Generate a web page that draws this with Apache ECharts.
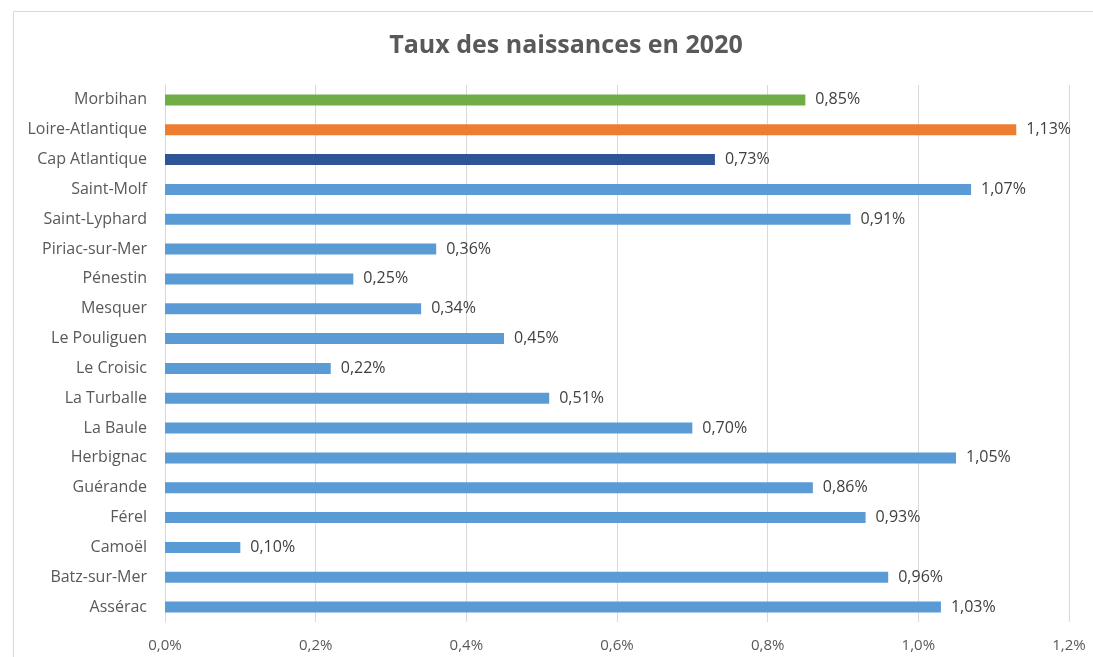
<!DOCTYPE html>
<html>
<head>
<meta charset="utf-8">
<script src="https://cdn.jsdelivr.net/npm/echarts@6/dist/echarts.min.js"></script>
<style>
  html, body { margin: 0; padding: 0; background: #fff; }
  #chart { width: 1093px; height: 657px; }
</style>
</head>
<body>
<div id="chart"></div>
<script>
// communes du bas vers le haut (ordre de l'axe)
const communes = [
  'Assérac', 'Batz-sur-Mer', 'Camoël', 'Férel', 'Guérande', 'Herbignac',
  'La Baule', 'La Turballe', 'Le Croisic', 'Le Pouliguen', 'Mesquer',
  'Pénestin', 'Piriac-sur-Mer', 'Saint-Lyphard', 'Saint-Molf',
  'Cap Atlantique', 'Loire-Atlantique', 'Morbihan'
];
// taux en %
const taux = [
  1.03, 0.96, 0.10, 0.93, 0.86, 1.05,
  0.70, 0.51, 0.22, 0.45, 0.34,
  0.25, 0.36, 0.91, 1.07,
  0.73, 1.13, 0.85
];
const couleurs = {
  'Cap Atlantique': '#2f5597',
  'Loire-Atlantique': '#ed7d31',
  'Morbihan': '#70ad47'
};
const couleurDefaut = '#5b9bd5';

const fmt = (v, d) => v.toFixed(d).replace('.', ',') + '%';

const chart = echarts.init(document.getElementById('chart'));
chart.setOption({
  animation: false,
  textStyle: { fontFamily: 'Open Sans' },
  graphic: [{
    type: 'polyline',
    shape: { points: [[13.5, 660], [13.5, 11.5], [1100, 11.5]] },
    style: { stroke: '#d9d9d9', lineWidth: 1, fill: null }
  }],
  title: {
    text: 'Taux des naissances en 2020',
    left: 561,
    textAlign: 'center',
    top: 28,
    textStyle: { fontSize: 25, fontWeight: 'bold', color: '#595959', fontFamily: 'Open Sans' }
  },
  grid: { left: 165, right: 24, top: 85, bottom: 35 },
  xAxis: {
    type: 'value',
    min: 0,
    max: 1.2,
    interval: 0.2,
    axisLine: { show: false },
    axisTick: { show: false },
    splitLine: { lineStyle: { color: '#d9d9d9', width: 1 } },
    axisLabel: {
      color: '#595959',
      fontSize: 15,
      margin: 16,
      formatter: v => fmt(v, 1)
    }
  },
  yAxis: {
    type: 'category',
    data: communes,
    axisLine: { show: true, lineStyle: { color: '#d9d9d9' } },
    axisTick: { show: false },
    axisLabel: { color: '#595959', fontSize: 16, margin: 18 }
  },
  series: [{
    type: 'bar',
    barWidth: 11,
    data: taux.map((v, i) => ({
      value: v,
      itemStyle: { color: couleurs[communes[i]] || couleurDefaut }
    })),
    label: {
      show: true,
      position: 'right',
      distance: 10,
      color: '#404040',
      fontSize: 16,
      formatter: p => fmt(p.value, 2)
    }
  }]
});
</script>
</body>
</html>
